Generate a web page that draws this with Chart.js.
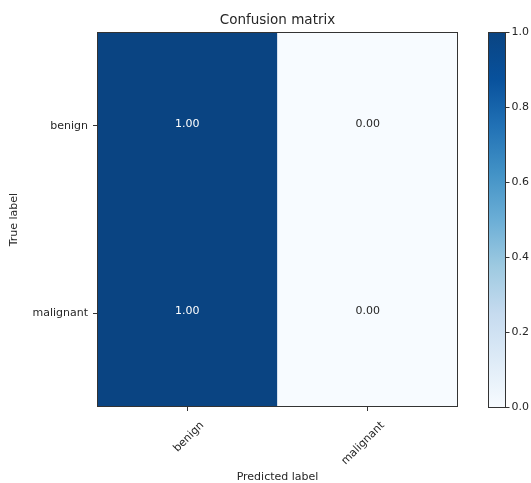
<!DOCTYPE html>
<html>
<head>
<meta charset="utf-8">
<script src="https://cdn.jsdelivr.net/npm/chart.js@4.4.0/dist/chart.umd.min.js"></script>
<style>
  body { margin: 0; background: #fff; }
  #wrap { position: relative; width: 531px; height: 483px; }
  #cm { position: absolute; left: 0; top: 0; }
  #cbar { position: absolute; left: 470px; top: 0; }
</style>
</head>
<body>
<div id="wrap">
  <canvas id="cm" width="531" height="483"></canvas>
  <canvas id="cbar" width="61" height="483"></canvas>
</div>
<script>
// confusion matrix data (normalized)
var predictedLabels = ['benign', 'malignant'];
var trueLabels = ['benign', 'malignant'];
var rowBenign = [1.00, 0.00];
var rowMalignant = [1.00, 0.00];
var colorbarTicks = [0.0, 0.2, 0.4, 0.6, 0.8, 1.0];

// matplotlib "Blues"
var blues = ['#f7fbff', '#deebf7', '#c6dbef', '#9ecae1', '#6baed6', '#4292c6', '#2171b5', '#08519c', '#0a4482'];

function hexToRgb(h) {
    return [parseInt(h.substr(1, 2), 16), parseInt(h.substr(3, 2), 16), parseInt(h.substr(5, 2), 16)];
}
function bluesColor(v) {
    var t = Math.max(0, Math.min(1, v)) * (blues.length - 1);
    var i = Math.min(Math.floor(t), blues.length - 2);
    var f = t - i;
    var a = hexToRgb(blues[i]), b = hexToRgb(blues[i + 1]);
    var c = a.map(function(x, k) { return Math.round(x + (b[k] - x) * f); });
    return 'rgb(' + c.join(',') + ')';
}

Chart.defaults.font.family = "'DejaVu Sans', sans-serif";
Chart.defaults.font.size = 11;
Chart.defaults.color = '#262626';

var frameColor = '#333';
var framePlugin = {
    id: 'frame',
    afterDraw: function(chart) {
        var a = chart.chartArea, ctx = chart.ctx;
        ctx.save();
        ctx.strokeStyle = frameColor;
        ctx.lineWidth = 1;
        ctx.strokeRect(Math.round(a.left) + 0.5, Math.round(a.top) + 0.5,
            Math.round(a.right - a.left) - 1, Math.round(a.bottom - a.top) - 1);
        ctx.restore();
    }
};

var rows = [rowBenign, rowMalignant];
var maxVal = 1.0;
var cellText = {
    id: 'cellText',
    afterDatasetsDraw: function(chart) {
        var ctx = chart.ctx;
        ctx.save();
        ctx.font = "11px 'DejaVu Sans'";
        ctx.textAlign = 'center';
        ctx.textBaseline = 'middle';
        chart.data.datasets.forEach(function(ds, di) {
            var meta = chart.getDatasetMeta(di);
            meta.data.forEach(function(el, j) {
                var v = ds.values[j];
                ctx.fillStyle = v > maxVal / 2 ? '#ffffff' : '#262626';
                ctx.fillText(v.toFixed(2), el.x, (el.y + el.base) / 2 - 2);
            });
        });
        ctx.restore();
    }
};

// row i from top occupies [n-1-i, n-i] on the y scale
var n = trueLabels.length;
var datasets = rows.map(function(r, i) {
    return {
        label: trueLabels[i],
        values: r,
        data: r.map(function() { return [n - 1 - i, n - i]; }),
        backgroundColor: r.map(bluesColor),
        borderWidth: 0,
        grouped: false,
        categoryPercentage: 1,
        barPercentage: 1
    };
});

new Chart(document.getElementById('cm'), {
    type: 'bar',
    data: { labels: predictedLabels, datasets: datasets },
    options: {
        responsive: false,
        animation: false,
        layout: { padding: { left: 0, right: 73, top: 0, bottom: 0 } },
        plugins: {
            legend: { display: false },
            tooltip: { enabled: false },
            title: {
                display: true,
                fullSize: false,
                text: 'Confusion matrix',
                font: { size: 13.5, weight: 'normal' },
                color: '#262626',
                padding: { top: 12, bottom: 4 }
            }
        },
        scales: {
            x: {
                type: 'category',
                offset: true,
                grid: { display: true, drawOnChartArea: false, offset: false, tickLength: 4, color: frameColor },
                border: { display: false },
                ticks: { minRotation: 45, maxRotation: 45, padding: 8, labelOffset: 15 },
                title: { display: true, text: 'Predicted label', font: { lineHeight: 1 }, padding: { top: 0, bottom: 0 } },
                afterFit: function(s) { s.height = 76; }
            },
            y: {
                type: 'linear',
                min: 0,
                max: n,
                afterBuildTicks: function(s) {
                    s.ticks = trueLabels.map(function(l, i) { return { value: n - 1 - i + 0.5 }; });
                },
                grid: { display: true, drawOnChartArea: false, tickLength: 4, color: frameColor },
                border: { display: false },
                ticks: {
                    padding: 5,
                    callback: function(v) { return trueLabels[n - 1 - Math.floor(v)]; }
                },
                title: { display: true, text: 'True label', padding: { top: 8, bottom: 0 } },
                afterFit: function(s) { s.width = 97; }
            }
        }
    },
    plugins: [cellText, framePlugin]
});

// colorbar
new Chart(document.getElementById('cbar'), {
    type: 'bar',
    data: {
        labels: [''],
        datasets: [{
            data: [colorbarTicks[colorbarTicks.length - 1]],
            borderWidth: 0,
            categoryPercentage: 1,
            barPercentage: 1,
            backgroundColor: function(ctx) {
                var a = ctx.chart.chartArea;
                if (!a) return blues[4];
                var g = ctx.chart.ctx.createLinearGradient(0, a.bottom, 0, a.top);
                blues.forEach(function(c, i) { g.addColorStop(i / (blues.length - 1), c); });
                return g;
            }
        }]
    },
    options: {
        responsive: false,
        animation: false,
        layout: { padding: { left: 18, right: 0, top: 32, bottom: 75.5 } },
        plugins: { legend: { display: false }, tooltip: { enabled: false } },
        scales: {
            x: { display: false },
            y: {
                position: 'right',
                min: colorbarTicks[0],
                max: colorbarTicks[colorbarTicks.length - 1],
                afterBuildTicks: function(s) {
                    s.ticks = colorbarTicks.map(function(v) { return { value: v }; });
                },
                grid: { display: true, drawOnChartArea: false, tickLength: 4, color: frameColor },
                border: { display: false },
                ticks: { padding: 2, callback: function(v) { return v.toFixed(1); } },
                afterFit: function(s) { s.width = 25.5; }
            }
        }
    },
    plugins: [framePlugin]
});
</script>
</body>
</html>
